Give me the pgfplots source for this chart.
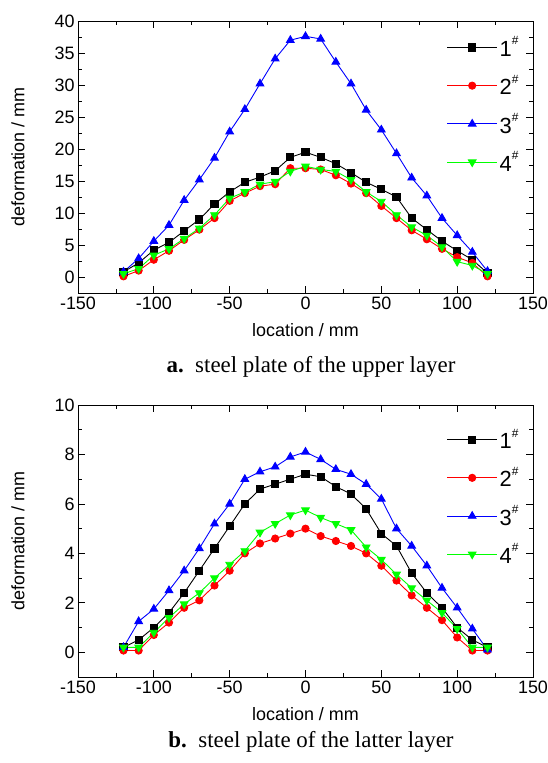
\documentclass[border=0pt]{standalone}
\usepackage{pgfplots}
\pgfplotsset{compat=1.18}
\usepackage{fontspec}
\setmainfont{Liberation Sans}
\newfontfamily\capfont{Liberation Serif}

\newcommand{\sh}[1]{#1\raisebox{1.0ex}{\fontsize{12}{12}\selectfont\#}}

\pgfplotsset{
  defo/.style={
    scale only axis,
    width=455bp, height=272bp,
    xmin=-150, xmax=150,
    xtick={-150,-100,...,150},
    minor x tick num=1,
    minor y tick num=1,
    tick align=inside,
    major tick length=7bp,
    minor tick length=4bp,
    axis line style={line width=1pt},
    every tick/.style={line width=0.8pt, black},
    tick label style={font=\fontsize{18}{20}\selectfont},
    /pgf/number format/assume math mode=true,
    label style={font=\fontsize{18}{20}\selectfont},
    xlabel={location / mm},
    ylabel={deformation / mm},
    xlabel style={at={(axis description cs:0.5,0)}, anchor=center, yshift=-37bp},
    ylabel style={at={(axis description cs:-0.132,0.5)}, anchor=center},
    legend cell align=left,
    legend style={draw=none, fill=none, font=\fontsize{22}{24}\selectfont,
      row sep=13bp, inner sep=0pt},
    legend image code/.code={
      \draw[#1, mark repeat=2, mark phase=2] plot coordinates {(0bp,0bp) (25bp,0bp) (50bp,0bp)};
    },
    every axis plot/.append style={line width=0.9pt},
  },
  s1/.style={black, mark=square*, mark size=3.6bp, mark options={solid}},
  s2/.style={red, mark=*, mark size=3.6bp},
  s3/.style={blue, mark=triangle*, mark size=4.4bp},
  s4/.style={green, mark=triangle*, mark size=4.4bp, mark options={rotate=180}},
}

\begin{document}
\begin{tikzpicture}
\begin{axis}[defo, name=top, at={(0,0)}, anchor=north west,
  ymin=-2.5, ymax=40, ytick={0,5,...,40},
  legend style={at={(rel axis cs:0.81,0.95)}, anchor=north west}]
\addplot[s1] coordinates {
(-120,0.8) (-110,2.2) (-100,4.2) (-90,5.4) (-80,7.2) (-70,9.0) (-60,11.4) (-50,13.3) (-40,14.8) (-30,15.6) (-20,16.6) (-10,18.7) (0,19.5) (10,18.7) (20,17.7) (30,16.3) (40,14.8) (50,13.7) (60,12.5) (70,9.2) (80,7.4) (90,5.6) (100,4.1) (110,2.7) (120,0.6)};
\addlegendentry{\sh{1}}
\addplot[s2] coordinates {
(-120,0.1) (-110,1.0) (-100,2.7) (-90,4.1) (-80,5.8) (-70,7.4) (-60,9.2) (-50,11.9) (-40,13.1) (-30,14.2) (-20,14.5) (-10,17.0) (0,17.0) (10,16.8) (20,15.9) (30,14.6) (40,13.1) (50,11.1) (60,9.2) (70,7.3) (80,5.9) (90,4.4) (100,3.1) (110,2.2) (120,0.1)};
\addlegendentry{\sh{2}}
\addplot[s3] coordinates {
(-120,0.8) (-110,2.9) (-100,5.6) (-90,8.1) (-80,12.0) (-70,15.2) (-60,18.6) (-50,22.7) (-40,26.2) (-30,30.2) (-20,34.1) (-10,37.0) (0,37.6) (10,37.2) (20,33.6) (30,30.2) (40,26.1) (50,23.0) (60,19.3) (70,15.5) (80,12.7) (90,9.2) (100,6.5) (110,3.9) (120,0.9)};
\addlegendentry{\sh{3}}
\addplot[s4] coordinates {
(-120,0.5) (-110,1.3) (-100,3.4) (-90,4.4) (-80,6.0) (-70,7.6) (-60,9.7) (-50,12.3) (-40,13.3) (-30,14.5) (-20,14.9) (-10,16.5) (0,17.3) (10,16.8) (20,16.5) (30,15.2) (40,13.3) (50,11.8) (60,9.7) (70,7.8) (80,6.5) (90,4.7) (100,2.4) (110,1.8) (120,0.5)};
\addlegendentry{\sh{4}}
\end{axis}

\begin{axis}[defo, name=bot, at={(0,-384bp)}, anchor=north west,
  ymin=-1, ymax=10, ytick={0,2,...,10},
  legend style={at={(rel axis cs:0.81,0.92)}, anchor=north west}]
\addplot[s1] coordinates {
(-120,0.2) (-110,0.5) (-100,1.0) (-90,1.6) (-80,2.4) (-70,3.3) (-60,4.2) (-50,5.1) (-40,6.0) (-30,6.6) (-20,6.8) (-10,7.0) (0,7.2) (10,7.1) (20,6.7) (30,6.4) (40,5.8) (50,4.8) (60,4.3) (70,3.2) (80,2.4) (90,1.8) (100,1.0) (110,0.5) (120,0.2)};
\addlegendentry{\sh{1}}
\addplot[s2] coordinates {
(-120,0.07) (-110,0.07) (-100,0.7) (-90,1.2) (-80,1.8) (-70,2.1) (-60,2.7) (-50,3.3) (-40,4.0) (-30,4.4) (-20,4.6) (-10,4.8) (0,5.0) (10,4.7) (20,4.5) (30,4.3) (40,4.0) (50,3.5) (60,2.9) (70,2.3) (80,1.8) (90,1.3) (100,0.6) (110,0.07) (120,0.07)};
\addlegendentry{\sh{2}}
\addplot[s3] coordinates {
(-120,0.2) (-110,1.25) (-100,1.75) (-90,2.5) (-80,3.3) (-70,4.2) (-60,5.2) (-50,6.0) (-40,7.0) (-30,7.3) (-20,7.5) (-10,7.9) (0,8.1) (10,7.8) (20,7.4) (30,7.2) (40,6.8) (50,6.2) (60,5.0) (70,4.3) (80,3.5) (90,2.6) (100,1.8) (110,0.95) (120,0.1)};
\addlegendentry{\sh{3}}
\addplot[s4] coordinates {
(-120,0.2) (-110,0.2) (-100,0.8) (-90,1.4) (-80,1.95) (-70,2.4) (-60,3.0) (-50,3.55) (-40,4.1) (-30,4.85) (-20,5.2) (-10,5.55) (0,5.75) (10,5.45) (20,5.2) (30,4.95) (40,4.25) (50,3.75) (60,3.15) (70,2.6) (80,2.1) (90,1.6) (100,0.95) (110,0.2) (120,0.2)};
\addlegendentry{\sh{4}}
\end{axis}

\node[font=\capfont\fontsize{23}{25}\selectfont] at (233bp,-346bp) {\textbf{a.}\enspace steel plate of the upper layer};
\node[font=\capfont\fontsize{23}{25}\selectfont] at (233bp,-721bp) {\textbf{b.}\enspace steel plate of the latter layer};

\pgfresetboundingbox
\useasboundingbox (-78bp,21bp) rectangle (470bp,-742bp);
\end{tikzpicture}
\end{document}
